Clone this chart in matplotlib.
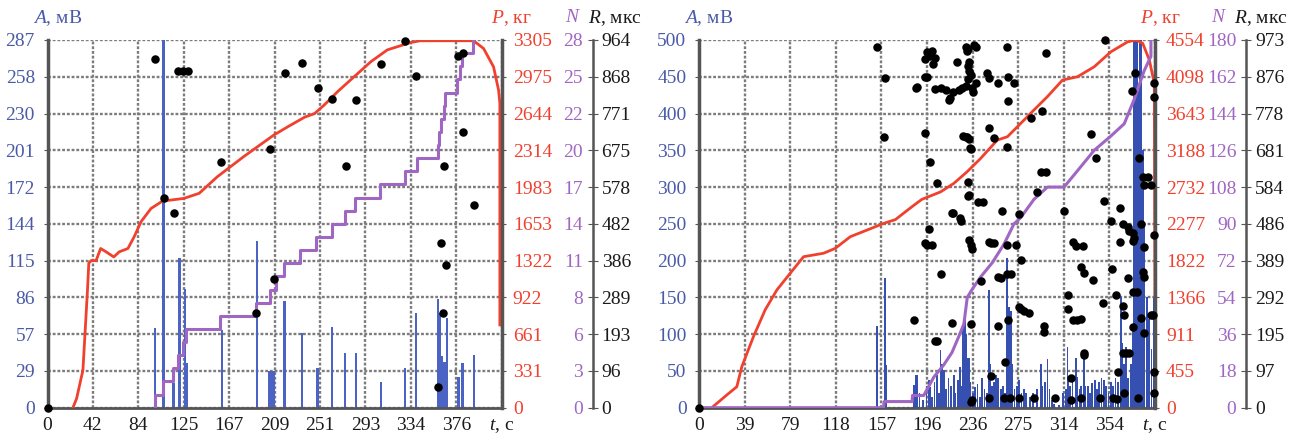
import numpy as np
import matplotlib.pyplot as plt

plt.rcParams['font.family'] = 'Liberation Serif'
plt.rcParams['mathtext.fontset'] = 'custom'
plt.rcParams['mathtext.it'] = 'Liberation Serif:italic'
plt.rcParams['mathtext.rm'] = 'Liberation Serif'

# ---------------- left panel data ----------------
l_tmax = 418
l_xticks = ['0', '42', '84', '125', '167', '209', '251', '293', '334', '376', '$t$, с']
l_amax = 287
l_alabels = ['0', '29', '57', '86', '115', '144', '172', '201', '230', '258', '287']
l_pmax = 3305
l_plabels = ['0', '331', '661', '922', '1322', '1653', '1983', '2314', '2644', '2975', '3305']
l_nmax = 28
l_nlabels = ['0', '3', '6', '8', '11', '14', '17', '20', '22', '25', '28']
l_rmax = 964
l_rlabels = ['0', '96', '193', '289', '386', '482', '578', '675', '771', '868', '964']

l_bar_t = [99.0, 106.6, 115.8, 121.3, 126.6, 128.0, 160.4, 192.6, 203.9, 205.8, 207.9,
           218.2, 234.3, 248.4, 261.9, 273.9, 284.0, 306.8, 329.2, 339.3, 359.3, 360.3,
           361.4, 362.5, 363.8, 364.8, 366.0, 367.5, 378.2, 381.9, 392.7]
l_bar_a = [62, 300, 19, 117, 93, 35, 61, 130, 29, 29, 29,
           83, 58, 31, 63, 43, 43, 20, 31, 74, 85, 30,
           74, 40, 36, 25, 36, 70, 24, 35, 41]

l_p_t = [23.4, 26.8, 32.6, 36.8, 38.0, 40.1, 44.7, 48.9, 53.9, 61.0, 66.0, 74.0, 79.8,
         86.1, 95.3, 105.8, 125.4, 139.6, 156.3, 180.6, 208.2, 221.1, 236.6, 245.8,
         254.6, 267.1, 282.2, 297.6, 312.7, 334.0, 342.8, 392.1, 401.3, 410.5, 415.1,
         416.3, 416.3]
l_p = [0, 83, 337, 1058, 1299, 1322, 1322, 1431, 1401, 1355, 1401, 1431, 1537,
       1672, 1791, 1857, 1881, 1927, 2076, 2257, 2450, 2525, 2611, 2644,
       2720, 2842, 2975, 3110, 3216, 3282, 3298, 3298, 3229, 3064, 2856,
       2737, 744]

l_n_t = [98.7, 98.7, 106.6, 115.8, 120.4, 125.0, 127.9, 158.8, 192.3, 204.9, 210.4,
         217.8, 232.5, 247.2, 261.6, 273.9, 283.1, 306.0, 329.0, 340.0, 359.0, 360.5,
         362.0, 364.5, 366.0, 377.0, 380.0, 381.5, 392.0]
l_n = [0, 1, 2, 3, 4, 5, 6, 7, 8, 9, 10, 11, 12, 13, 14, 15, 16, 17, 18, 19, 20, 21,
       22, 23, 24, 25, 26, 27, 28]

l_dot_t = [0, 98.7, 107.0, 116.6, 120.4, 125.0, 128.9, 159.6, 192.3, 204.7, 208.5,
           218.7, 234.6, 248.8, 261.6, 274.5, 284.0, 307.0, 329.2, 339.0, 359.2,
           362.3, 363.8, 365.3, 366.9, 378.2, 382.3, 382.3, 392.7]
l_dot_r = [0, 913, 551, 510, 884, 884, 884, 644, 249, 678, 337,
           877, 905, 837, 810, 634, 807, 900, 962, 870, 55,
           431, 249, 634, 374, 922, 931, 723, 532]

# ---------------- right panel data ----------------
r_tmax = 393
r_xticks = ['0', '39', '79', '118', '157', '196', '236', '275', '314', '354', '$t$, с']
r_amax = 500
r_alabels = ['0', '50', '100', '150', '200', '250', '300', '350', '400', '450', '500']
r_pmax = 4554
r_plabels = ['0', '455', '911', '1366', '1822', '2277', '2732', '3188', '3643', '4098', '4554']
r_nmax = 180
r_nlabels = ['0', '18', '36', '54', '72', '90', '108', '126', '144', '162', '180']
r_rmax = 973
r_rlabels = ['0', '97', '195', '292', '389', '486', '584', '681', '778', '876', '973']

r_bar_t = [153.5, 160.6, 161.5, 185.1, 186.6, 188.0, 190, 193, 196, 198, 199.5, 201, 203,
           205, 207, 208.2, 209.5, 211, 213, 215, 217, 219.6, 221, 223, 225, 226.5,
           227.7, 229.0, 229.7, 230.6, 231.5, 232.5, 234, 236, 238, 240, 242, 244, 246,
           248, 249.9, 251, 252.5, 254, 256, 258, 260, 262, 263.7, 265.2, 267.2, 268.6,
           270, 272, 274, 276, 278, 280, 282, 285, 288, 291, 294.5, 296, 298, 300.3,
           302, 304, 306, 310, 314, 316, 317.6, 318.5, 320, 322, 324.8, 326, 328, 329.1,
           331.9, 333, 335, 337, 339, 341, 343, 345, 347, 349, 351, 353, 355, 357, 359,
           361, 363.6, 365.1, 366.5, 368, 370, 372, 374, 375.1, 376.5, 377.5, 378.5,
           380, 381, 382.5, 384, 386, 388, 390, 391.7]
r_bar_a = [111, 176, 58, 31, 44, 45, 20, 10, 30, 38, 28, 15, 35,
           45, 20, 78, 60, 51, 25, 40, 30, 44, 20, 38, 55, 30,
           110, 124, 115, 100, 67, 68, 35, 20, 28, 32, 15, 40, 25,
           20, 160, 60, 30, 35, 44, 40, 25, 30, 20, 203, 137, 131,
           60, 25, 30, 38, 20, 26, 20, 15, 20, 25, 60, 30, 35, 66,
           25, 10, 5, 3, 20, 25, 83, 42, 30, 35, 68, 42, 25, 30,
           78, 29, 29, 20, 33, 38, 25, 35, 40, 38, 30, 20, 35, 30, 40,
           35, 151, 88, 60, 83, 40, 60, 110, 500, 500, 500, 430,
           500, 500, 350, 250, 150, 120, 80, 151]

r_p_t = [11, 23.9, 32.6, 36.9, 46.9, 57, 67.1, 78.6, 90.1, 107.4, 117.5, 130.4, 144.8,
         159.2, 169.3, 183.7, 192, 208.2, 219.6, 231.2, 242.7, 257.1, 265.8, 277.2,
         288.8, 300.3, 313.3, 326.2, 340.6, 355, 369.4, 376.6, 382.4, 388.1, 392.4, 393]
r_p = [0, 157, 260, 508, 879, 1211, 1458, 1665, 1870, 1913, 1974, 2118, 2200,
       2283, 2330, 2491, 2580, 2673, 2778, 2924, 3087, 3315, 3356, 3520,
       3689, 3853, 4058, 4099, 4222, 4408, 4531, 4554, 4513, 4308, 4017, 1370]

r_n_t = [0, 159.0, 159.5, 183.7, 184.0, 193.7, 202.4, 211, 218, 224, 228.3, 231.2,
         235.5, 242.7, 252.8, 262.8, 271.5, 277.2, 288.7, 300.3, 314.6, 326.2, 340.6,
         355, 366.5, 375.1, 383.7, 389.5, 389.5]
r_n = [0, 0, 3, 3, 6, 6, 15, 21, 27, 35, 41, 54,
       58, 64, 71, 80, 90, 93, 102, 108, 108, 116, 126,
       133, 139, 151, 165, 172, 180]

r_dot_t = [0, 153.5, 160.6, 159.2, 186.6, 188.0, 185.1, 195.2, 195.2, 195.2, 195.2,
           196.7, 199.5, 201.0, 203.8, 202.0, 196.7, 203.8, 199.5, 204.7,
           208.2, 213, 216, 219, 224, 227, 230, 231.5, 232.6, 234, 235.5, 236.5, 238.4,
           231.5, 230.6, 231.5, 233, 230.6, 232.6, 233.5, 231.5, 233, 218.3, 224.8,
           238.4, 240.1, 236.9, 229.7, 265.2, 349.8, 298.8, 222.0, 266.6, 271.5, 258.0,
           248.5, 249.9, 215.3, 266.6, 286.5, 295.4, 372.9, 375.7, 392.4, 392.5,
           227.8, 229.7, 249.9, 254.2, 234.1, 265.2, 337.7, 342.0, 294.5, 298.8,
           379.4, 382.3, 383.5, 389.5, 387, 291.7, 232.2, 245.0, 314.6, 348.7, 260.8,
           363.0, 219.1, 225.4, 275.8, 355.0, 365.1, 369.4, 370.8, 373.7, 380.9,
           392.4, 198.0, 196.7, 201.0, 232.6, 234.1, 235.5, 249.9, 251.3, 254.2,
           265.2, 272.9, 321.9, 324.8, 330.6, 363.0, 374.0, 375.1, 383.5, 277.2,
           208.8, 258.0, 260.0, 265.2, 268.6, 242.7, 329.1, 331.9, 339.2, 355.8,
           369.4, 382.3, 383.7, 374.0, 377.4, 347.8, 317.6, 317.6, 275.8, 277.2,
           284.2, 280, 359.3, 365.1, 366.5, 321.9, 326.2, 329.1, 218.3, 234.1, 258.0,
           266.6, 297.4, 297.4, 380.9, 389.5, 391, 374.0, 383.5, 204.7, 203.8, 365.1,
           368, 370.8, 331.4, 332, 320.4, 360.8, 263.7, 251.3, 392.4, 234.1, 235.5,
           250, 263, 268, 276, 289, 307, 321, 329, 346, 357, 360, 378, 366, 392.4]
r_dot_r = [0, 954, 872, 717, 845, 849, 232, 924, 876, 726, 435,
           940, 930, 945, 925, 910, 876, 843, 651, 594,
           845, 840, 820, 835, 840, 845, 850, 870, 890, 880, 845, 835, 860,
           950, 945, 905, 915, 717, 710, 686, 598, 562, 516, 502,
           955, 545, 959, 954, 955, 973, 939, 916, 876, 858, 858,
           885, 873, 814, 812, 766, 785, 837, 886, 858, 823,
           720, 715, 740, 714, 685, 691, 724, 662, 625, 625,
           660, 611, 590, 590, 611, 570, 561, 545, 521, 547, 521,
           529, 516, 494, 512, 495, 487, 477, 467, 462, 486,
           457, 472, 430, 430, 445, 430, 420, 438, 435, 435,
           430, 430, 438, 428, 428, 438, 440, 448, 426, 391,
           353, 345, 343, 355, 355, 336, 373, 357, 338, 366,
           342, 360, 346, 306, 306, 276, 299, 261, 266, 262,
           250, 255, 297, 268, 245, 232, 232, 234, 225, 222, 216,
           232, 217, 201, 237, 245, 245, 214, 197, 177, 177, 144,
           144, 144, 144, 140, 78, 95, 122, 84, 95, 14, 20,
           25, 25, 25, 25, 25, 25, 20, 25, 25, 25, 22, 25, 40, 40]

A_COL = '#4a5aa8'
P_COL = '#f0402e'
N_COL = '#a066c4'
R_COL = '#1a1a1a'
SPINE = '#555555'
FS = 14

fig = plt.figure(figsize=(13.09, 4.42), dpi=100)
W, H = 1309.0, 442.0


def panel(x0, x1, tmax, xlabels, amax, alabels, pmax, plabels, nmax, nlabels, rmax, rlabels,
          bar_t, bar_a, bar_w, bar_col, p_t, p_v, n_t, n_v, n_step, dot_t, dot_r):
    y_top, y_bot = 40.0, 407.7
    ax = fig.add_axes([x0 / W, 1 - y_bot / H, (x1 - x0) / W, (y_bot - y_top) / H])
    ax.set_xlim(0, tmax)
    ax.set_ylim(0, amax)
    ax.set_xticks(np.linspace(0, tmax, 11))
    ax.set_xticklabels(xlabels)
    ax.set_yticks(np.linspace(0, amax, 11))
    ax.set_yticklabels(alabels)
    ax.grid(True, color='#7c7c7c', linestyle=(0, (1.2, 0.8)), linewidth=1.7)
    ax.set_axisbelow(True)
    ax.tick_params(axis='y', colors=A_COL, labelsize=FS, length=3, pad=6)
    ax.tick_params(axis='x', colors=R_COL, labelsize=FS, length=0, pad=7)
    for s in ['top', 'right']:
        ax.spines[s].set_visible(False)
    ax.spines['left'].set_color(SPINE)
    ax.spines['left'].set_linewidth(2.5)
    ax.spines['bottom'].set_color(SPINE)
    ax.spines['bottom'].set_linewidth(2)
    ax.tick_params(axis='y', color=SPINE)
    ax.bar(bar_t, bar_a, width=bar_w, color=bar_col, linewidth=0, zorder=2)

    # load P
    axp = ax.twinx()
    axp.set_ylim(0, pmax)
    axp.set_yticks(np.linspace(0, pmax, 11))
    axp.set_yticklabels(plabels)
    axp.tick_params(axis='y', colors=P_COL, labelsize=FS, length=3, pad=5)
    axp.tick_params(axis='y', color=SPINE)
    for s in ['top', 'left', 'bottom']:
        axp.spines[s].set_visible(False)
    axp.spines['right'].set_color(SPINE)
    axp.spines['right'].set_linewidth(2.5)
    axp.plot(p_t, p_v, color=P_COL, linewidth=2)

    # count N, labels left of the R spine
    axn = ax.twinx()
    axn.set_ylim(0, nmax)
    axn.spines['left'].set_position(('axes', 1.2))
    axn.yaxis.tick_left()
    axn.set_yticks(np.linspace(0, nmax, 11))
    axn.set_yticklabels(nlabels)
    axn.tick_params(axis='y', colors=N_COL, labelsize=FS, length=0, pad=7)
    for s in axn.spines.values():
        s.set_visible(False)
    if n_step:
        axn.step(n_t, n_v, where='post', color=N_COL, linewidth=2.2)
    else:
        axn.plot(n_t, n_v, color=N_COL, linewidth=2.2)

    # rise time R
    axr = ax.twinx()
    axr.set_ylim(0, rmax)
    axr.spines['right'].set_position(('axes', 1.2))
    axr.set_yticks(np.linspace(0, rmax, 11))
    axr.set_yticklabels(rlabels)
    axr.tick_params(axis='y', colors=R_COL, labelsize=FS, direction='inout', length=7, pad=3)
    axr.tick_params(axis='y', color=SPINE)
    for s in ['top', 'left', 'bottom']:
        axr.spines[s].set_visible(False)
    axr.spines['right'].set_color(SPINE)
    axr.spines['right'].set_linewidth(1.8)
    axr.scatter(dot_t, dot_r, s=26, color='black', zorder=5, clip_on=False)
    return ax


panel(47.5, 501.7, l_tmax, l_xticks, l_amax, l_alabels, l_pmax, l_plabels, l_nmax, l_nlabels,
      l_rmax, l_rlabels, l_bar_t, l_bar_a, 2.2, '#4a63c4', l_p_t, l_p, l_n_t, l_n, True,
      l_dot_t, l_dot_r)
panel(699, 1155, r_tmax, r_xticks, r_amax, r_alabels, r_pmax, r_plabels, r_nmax, r_nlabels,
      r_rmax, r_rlabels, r_bar_t, r_bar_a, 1.5, '#3550b0', r_p_t, r_p, r_n_t, r_n, False,
      r_dot_t, r_dot_r)


def head(x, txt, col):
    fig.text(x / W, 1 - 18 / H, txt, color=col, fontsize=FS, ha='center', va='center')


head(58, '$A$, мВ', A_COL)
head(511, '$P$, кг', P_COL)
head(573, '$N$', N_COL)
head(615, '$R$, мкс', R_COL)
head(709, '$A$, мВ', A_COL)
head(1160, '$P$, кг', P_COL)
head(1219, '$N$', N_COL)
head(1261, '$R$, мкс', R_COL)

fig.savefig('out.png', dpi=100)
